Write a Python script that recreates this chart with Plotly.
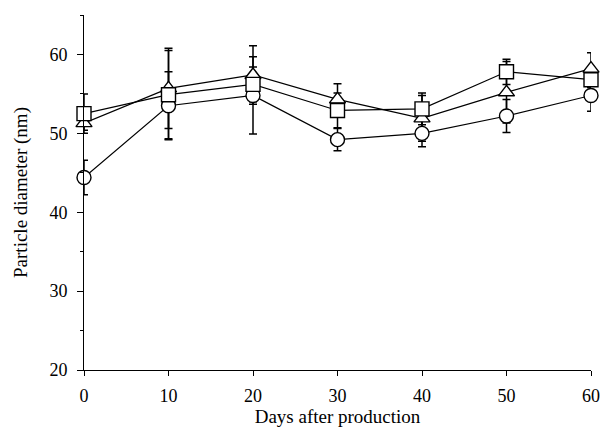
import plotly.graph_objects as go

days = [0, 10, 20, 30, 40, 50, 60]
circle_vals = [44.4, 53.5, 54.8, 49.2, 50.0, 52.2, 54.8]
circle_err = [2.2, 4.3, 4.9, 1.4, 1.7, 2.1, 2.0]
triangle_vals = [51.3, 55.7, 57.4, 54.3, 51.9, 55.2, 58.2]
triangle_err = [0.9, 5.1, 3.7, 2.0, 2.9, 3.9, 2.0]
square_vals = [52.5, 54.9, 56.2, 52.9, 53.1, 57.8, 56.8]
square_err = [2.5, 5.6, 2.2, 2.2, 2.0, 1.6, 1.0]

series = [
    ("circle", circle_vals, circle_err),
    ("triangle-up", triangle_vals, triangle_err),
    ("square", square_vals, square_err),
]

FONT = "Liberation Serif"
fig = go.Figure()

# connecting lines
for sym, vals, err in series:
    fig.add_trace(go.Scatter(x=days, y=vals, mode="lines",
                             line=dict(color="black", width=1.2),
                             showlegend=False, hoverinfo="skip", cliponaxis=False))
# error bars
for sym, vals, err in series:
    fig.add_trace(go.Scatter(x=days, y=vals, mode="markers",
                             marker=dict(size=1, color="rgba(0,0,0,0)"),
                             error_y=dict(type="data", array=err, visible=True,
                                          color="black", thickness=1.5, width=4),
                             showlegend=False, cliponaxis=False))
# markers
for sym, vals, err in series:
    fig.add_trace(go.Scatter(x=days, y=vals, mode="markers",
                             marker=dict(symbol=sym, size=14, color="white",
                                         line=dict(color="black", width=1.4)),
                             showlegend=False, cliponaxis=False))

fig.update_layout(
    width=600, height=420,
    margin=dict(l=76, r=17, t=7, b=58),
    paper_bgcolor="white", plot_bgcolor="white",
    font=dict(family=FONT, size=18, color="black"),
    xaxis=dict(range=[0, 60], tickvals=days, showline=True, linecolor="black",
               linewidth=1, ticks="outside", ticklen=5, tickcolor="black",
               ticklabelstandoff=4, automargin=False, ticklabeloverflow="allow",
               showgrid=False, zeroline=False,
               title=dict(text="Days after production", standoff=4,
                          font=dict(size=19))),
    yaxis=dict(range=[20, 65], tickvals=[20, 30, 40, 50, 60], showline=True,
               linecolor="black", linewidth=1, ticks="outside", ticklen=6,
               tickcolor="black", showgrid=False, zeroline=False,
               ticklabelstandoff=6, automargin=False,
               minor=dict(tickvals=[25, 35, 45, 55, 65], ticks="outside",
                          ticklen=3, tickcolor="black"),
               title=dict(text="Particle diameter (nm)", standoff=16,
                          font=dict(size=19))),
)

fig.write_html("out.html")
